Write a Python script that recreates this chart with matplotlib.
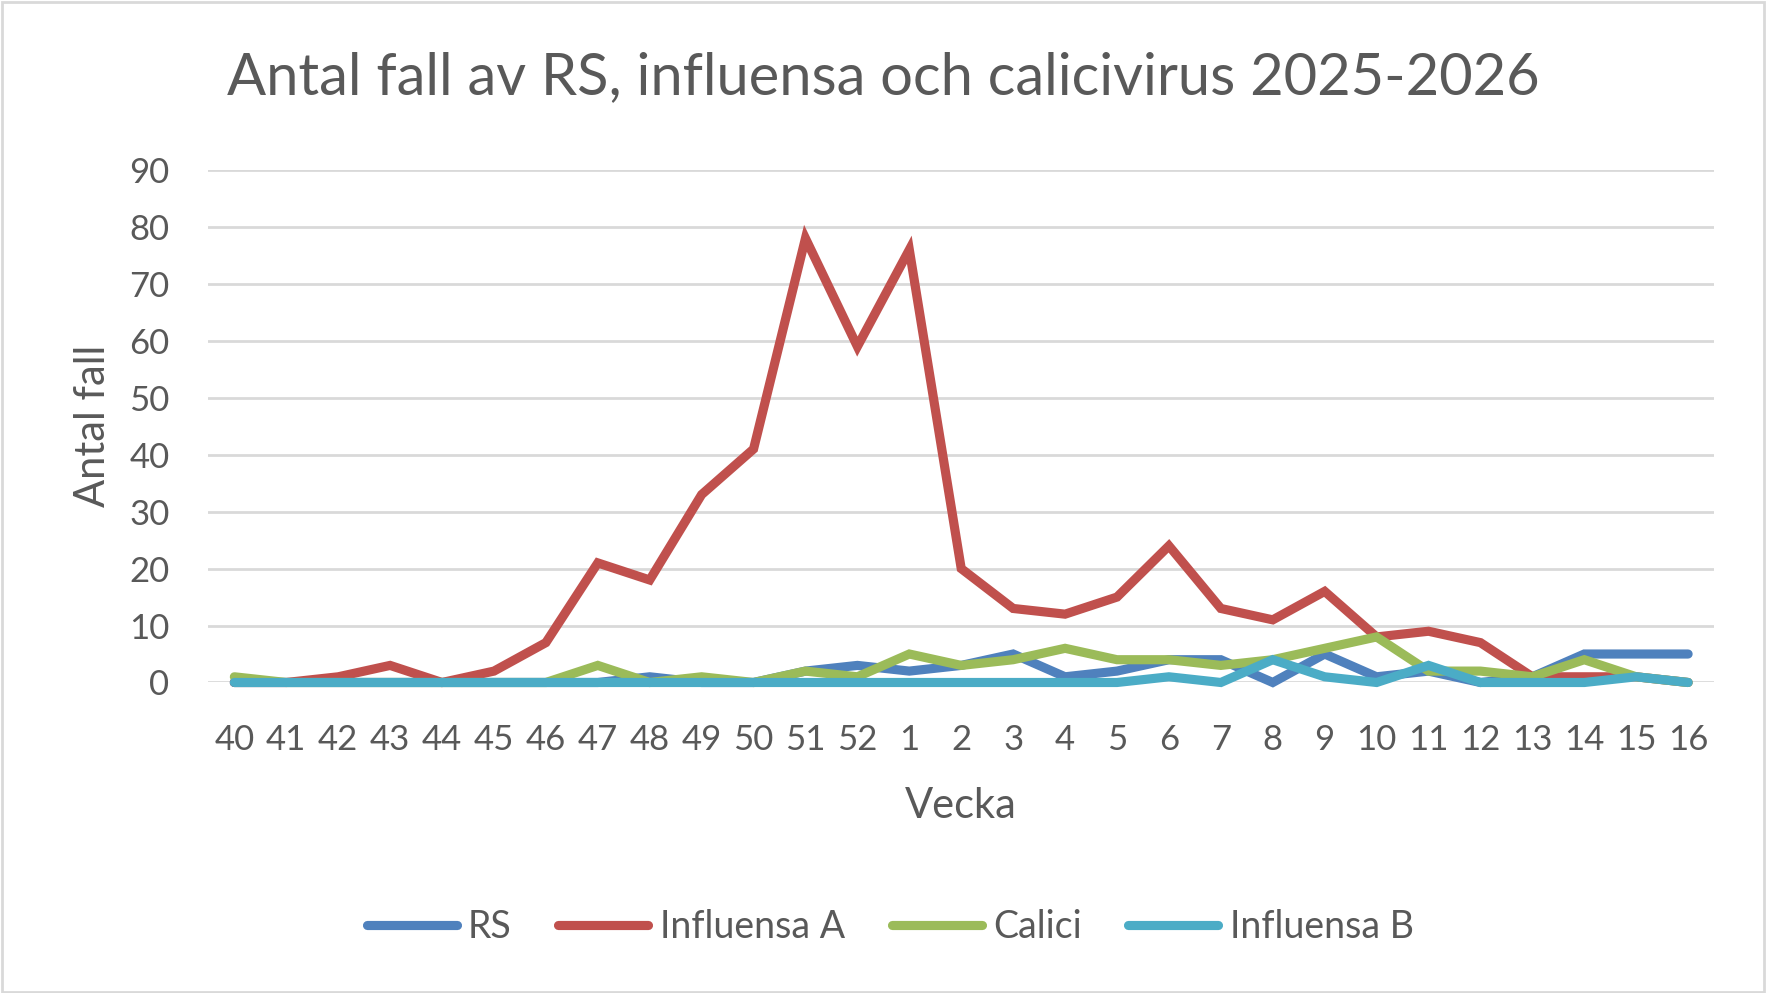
import matplotlib
matplotlib.use('Agg')
import matplotlib.pyplot as plt
from matplotlib.patches import Rectangle

plt.rcParams['font.family'] = ['Lato', 'DejaVu Sans']

# Veckor 40-52 (2025) och 1-16 (2026)
weeks = [str(w) for w in range(40, 53)] + [str(w) for w in range(1, 17)]

rs = [0, 0, 0, 0, 0, 0, 0, 0, 1, 0, 0, 2, 3, 2, 3, 5, 1, 2, 4, 4,
      0, 5, 1, 2, 0, 1, 5, 5, 5]
influensa_a = [0, 0, 1, 3, 0, 2, 7, 21, 18, 33, 41, 78, 59, 76, 20, 13, 12, 15, 24, 13,
               11, 16, 8, 9, 7, 1, 1, 1, 0]
calici = [1, 0, 0, 0, 0, 0, 0, 3, 0, 1, 0, 2, 1, 5, 3, 4, 6, 4, 4, 3,
          4, 6, 8, 2, 2, 1, 4, 1, 0]
influensa_b = [0, 0, 0, 0, 0, 0, 0, 0, 0, 0, 0, 0, 0, 0, 0, 0, 0, 0, 1, 0,
               4, 1, 0, 3, 0, 0, 0, 1, 0]

series = [
    ('RS', rs, '#4F81BD'),
    ('Influensa A', influensa_a, '#C0504D'),
    ('Calici', calici, '#9BBB59'),
    ('Influensa B', influensa_b, '#4BACC6'),
]

text_col = '#595959'
grid_col = '#D9D9D9'

fig = plt.figure(figsize=(17.66, 9.93), dpi=100)
ax = fig.add_axes([0.118, 0.3127, 0.8526, 0.5161])

x = list(range(len(weeks)))
for name, vals, col in series:
    ax.plot(x, vals, color=col, linewidth=6.6, label=name, clip_on=False,
            solid_capstyle='round', solid_joinstyle='miter')

ax.set_xlim(-0.5, len(weeks) - 0.5)
ax.set_ylim(0, 90)
ax.set_yticks(range(0, 91, 10))
ax.set_xticks(x)
ax.set_xticklabels(weeks)
ax.yaxis.grid(True, color=grid_col, linewidth=2)
ax.set_axisbelow(True)
for s in ax.spines.values():
    s.set_visible(False)
ax.tick_params(axis='both', length=0, labelsize=25, colors=text_col)
ax.tick_params(axis='x', pad=30)
ax.tick_params(axis='y', pad=28)

ax.set_xlabel('Vecka', fontsize=30, color=text_col, labelpad=22)
ax.set_ylabel('Antal fall', fontsize=30, color=text_col, labelpad=12)

fig.text(0.5, 0.922, 'Antal fall av RS, influensa och calicivirus 2025-2026',
         ha='center', va='center', fontsize=41.7, color=text_col)

fig.legend(loc='center', bbox_to_anchor=(0.504, 0.066), ncol=4, frameon=False,
           fontsize=27, labelcolor=text_col, handlelength=2.4, handletextpad=0.3,
           columnspacing=1.25)

# ram runt diagrammet
fig.patches.append(Rectangle((0.001, 0.001), 0.998, 0.997, transform=fig.transFigure,
                             fill=False, edgecolor=grid_col, linewidth=2))

fig.savefig('out.png', dpi=100)
